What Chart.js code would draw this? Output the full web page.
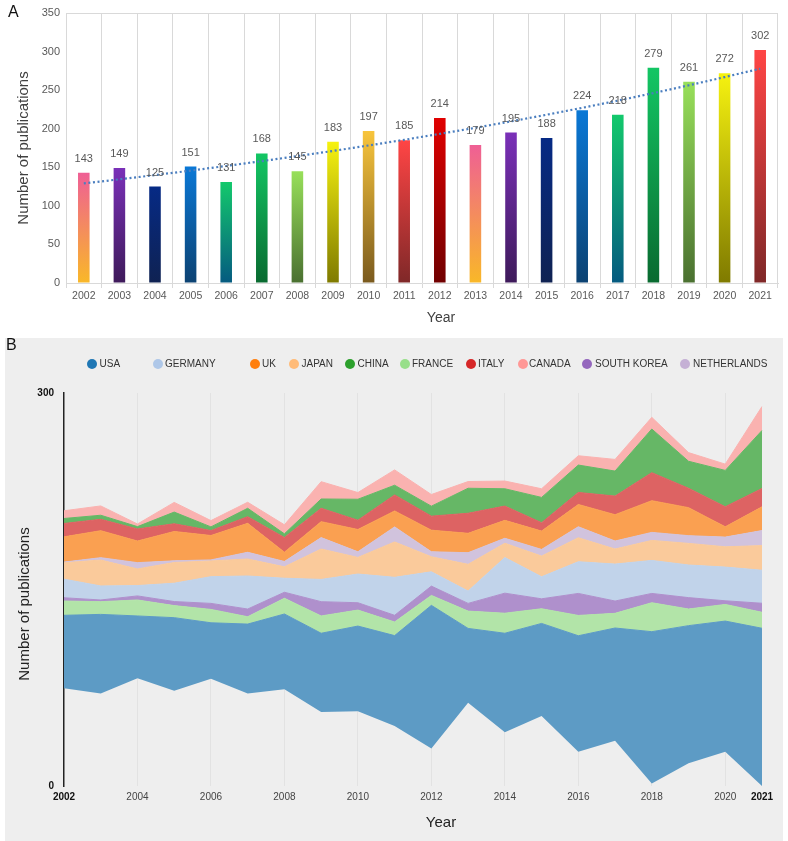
<!DOCTYPE html>
<html><head><meta charset="utf-8">
<script src="https://cdn.jsdelivr.net/npm/chart.js@4.4.1/dist/chart.umd.min.js"></script>
<style>
html,body{margin:0;padding:0;background:#fff;}
#wrap{position:relative;width:788px;height:841px;overflow:hidden;font-family:"Liberation Sans",Arial,sans-serif;}
#cA{position:absolute;left:0;top:0;}
#bgB{position:absolute;left:5px;top:338px;width:778px;height:503px;background:#eeeeee;}
#cB{position:absolute;left:0;top:338px;}
.panel{position:absolute;font-size:16px;color:#111;line-height:16px;}
.li{position:absolute;top:356px;font-size:10px;color:#333;line-height:16px;white-space:nowrap;}
.dot{position:absolute;top:359px;width:10px;height:10px;border-radius:50%;}
.ttl{position:absolute;width:200px;text-align:center;white-space:nowrap;}
</style></head>
<body>
<div id="wrap">
  <canvas id="cA" width="788" height="335"></canvas>
  <div id="bgB"></div>
  <canvas id="cB" width="788" height="503"></canvas>
  <div class="panel" style="left:8px;top:4px;">A</div>
  <div class="panel" style="left:6px;top:337px;">B</div>
  <div class="ttl" style="left:341px;top:308px;font-size:14px;line-height:18px;color:#404040;">Year</div>
  <div class="ttl" style="left:341px;top:812px;font-size:15px;line-height:20px;color:#222;">Year</div>
  <div class="ttl" style="left:-76px;top:594px;font-size:15px;line-height:20px;color:#222;transform:rotate(-90deg);transform-origin:100px 10px;">Number of publications</div>
</div>
<script>
// ---------- data ----------
const years = ['2002','2003','2004','2005','2006','2007','2008','2009','2010','2011','2012','2013','2014','2015','2016','2017','2018','2019','2020','2021'];
const publications = [143,149,125,151,131,168,145,183,197,185,214,179,195,188,224,218,279,261,272,302];
const trendValues = [129.1,134.4,139.9,145.7,151.7,158.0,164.5,171.2,178.3,185.6,193.3,201.2,209.5,218.1,227.1,236.4,246.2,256.3,266.9,277.8];

// stream graph (panel B), values in axis units, bottom-to-top order
const streamBaseline = [74.6,70.7,82.2,72.8,81.9,70.7,73.8,56.5,57.0,45.8,28.7,63.6,41.0,53.4,26.2,34.6,2.0,17.3,26.2,0];
const usa         = [55.7,60.3,47.6,55.7,42.7,52.9,57.5,60.1,65.1,69.0,109.2,56.7,75.6,70.7,88.5,86.0,115.8,105.1,99.7,120.4];
const france      = [10.9,9.7,12.2,9.2,10.2,5.6,12.0,13.2,12.2,10.4,7.6,13.2,15.3,11.2,15.5,11.2,22.1,12.7,12.7,12.2];
const southKorea  = [2.5,1.3,3.1,3.1,4.6,5.9,4.6,10.9,5.6,5.1,7.1,5.9,15.3,7.6,16.8,9.4,7.1,8.7,2.8,6.9];
const germany     = [14.2,10.7,7.9,14.0,20.4,25.2,10.7,17.0,21.9,29.0,10.9,9.4,27.2,16.8,24.2,28.2,25.2,24.9,25.7,25.2];
const japan       = [12.5,19.8,12.7,15.8,12.0,13.0,8.7,23.2,12.7,27.0,11.5,20.4,10.9,15.8,18.3,11.5,15.3,16.5,15.5,18.8];
const netherlands = [0.5,1.8,4.8,1.3,0.8,5.1,4.1,8.7,4.3,11.5,3.8,8.9,3.8,5.1,8.4,6.1,6.1,5.9,7.4,11.5];
const uk          = [19.3,20.6,16.5,22.4,18.6,22.1,7.1,12.2,17.0,12.2,16.5,14.8,13.7,14.0,17.0,20.1,24.2,21.4,7.9,18.1];
const italy       = [10.2,8.7,9.2,5.9,3.8,5.1,11.2,10.2,7.1,12.2,10.7,15.3,10.9,6.4,9.2,14.2,21.4,14.8,15.3,14.0];
const china       = [3.8,3.1,1.8,8.9,2.8,6.4,2.8,7.1,16.0,7.4,7.6,19.1,13.2,19.3,20.9,19.1,33.3,20.6,27.7,44.3];
const canada      = [5.9,7.1,2.0,7.4,4.8,4.6,6.9,13.2,5.1,11.7,8.9,5.1,5.9,6.6,7.1,8.9,8.9,6.6,4.8,18.3];

const stackNames = ['USA','FRANCE','SOUTH KOREA','GERMANY','JAPAN','NETHERLANDS','UK','ITALY','CHINA','CANADA'];
const stackSeries = [usa,france,southKorea,germany,japan,netherlands,uk,italy,china,canada];
const legendNames = ['USA','GERMANY','UK','JAPAN','CHINA','FRANCE','ITALY','CANADA','SOUTH KOREA','NETHERLANDS'];

// ---------- styles ----------
const barTop = ['#ef5f95','#7a30b8','#062a85','#0a78d6','#13c96c','#13c664','#98e05a','#f6f210','#f8c53c','#ff4545','#e00000',
                '#ef5f95','#7a30b8','#062a85','#0a78d6','#13c96c','#13c664','#98e05a','#f6f210','#ff4545'];
const barBottom = ['#f9b828','#3e1a5a','#0f2252','#0c4272','#055a80','#096a30','#4a7030','#7f7a00','#7a5a1e','#7f2828','#700000',
                   '#f9b828','#3e1a5a','#0f2252','#0c4272','#055a80','#096a30','#4a7030','#7f7a00','#7f2828'];
const baseColors = {'USA':'#1f77b4','GERMANY':'#aec7e8','UK':'#ff7f0e','JAPAN':'#ffbb78','CHINA':'#2ca02c','FRANCE':'#98df8a',
  'ITALY':'#d62728','CANADA':'#ff9896','SOUTH KOREA':'#9467bd','NETHERLANDS':'#c5b0d5'};
function blend(hex){ // 70% colour over #eeeeee
  const n=parseInt(hex.slice(1),16), r=n>>16, g=(n>>8)&255, b=n&255;
  const f=v=>Math.round(v*0.7+238*0.3);
  return 'rgb('+f(r)+','+f(g)+','+f(b)+')';
}
const legendDotX = [92,157.6,255,294.4,350,404.5,470.7,522.7,587.4,685.4];
const legendTextX = [99.5,165,262,301.5,357.6,412,478,529,595,693];

Chart.defaults.font.family = '"Liberation Sans", Arial, sans-serif';

// legend (HTML)
const wrap = document.getElementById('wrap');
legendNames.forEach((n,i)=>{
  const d=document.createElement('div'); d.className='dot';
  d.style.left=(legendDotX[i]-5)+'px'; d.style.background=baseColors[n]; wrap.appendChild(d);
  const t=document.createElement('div'); t.className='li'; t.textContent=n;
  t.style.left=legendTextX[i]+'px'; wrap.appendChild(t);
});

// ---------- panel A ----------
function barGrad(c){
  const i=c.dataIndex;
  if(i===undefined) return barTop[0];
  const chart=c.chart;
  if(!chart.chartArea) return barTop[i];
  const y=chart.scales.y;
  const top=y.getPixelForValue(publications[i]), bot=y.getPixelForValue(0);
  const g=chart.ctx.createLinearGradient(0,top,0,bot);
  g.addColorStop(0,barTop[i]); g.addColorStop(1,barBottom[i]);
  return g;
}
const valueLabels = {
  id:'valueLabels',
  afterDatasetsDraw(chart){
    const meta=chart.getDatasetMeta(1), ctx=chart.ctx;
    ctx.save();
    ctx.font='11px "Liberation Sans", Arial, sans-serif';
    ctx.fillStyle='#595959'; ctx.textAlign='center'; ctx.textBaseline='alphabetic';
    meta.data.forEach((bar,i)=>ctx.fillText(String(publications[i]), bar.x, bar.y-11));
    ctx.restore();
  }
};
new Chart(document.getElementById('cA'), {
  type:'bar',
  data:{ labels:years, datasets:[
    { type:'line', data:trendValues, borderColor:'#4a7ebf', borderWidth:2.2, borderDash:[2,2.6],
      pointRadius:0, fill:false, tension:0, order:0 },
    { type:'bar', data:publications, backgroundColor:barGrad, borderWidth:0, order:1,
      barPercentage:0.325, categoryPercentage:1 }
  ]},
  options:{
    responsive:false, animation:false, events:[],
    layout:{padding:{left:0,right:10,top:13,bottom:0}},
    plugins:{legend:{display:false}, tooltip:{enabled:false}},
    scales:{
      x:{ offset:true,
          grid:{offset:true, color:'#d9d9d9', tickLength:5},
          border:{display:true, color:'#d9d9d9'},
          ticks:{font:{size:10.5}, color:'#595959', padding:2, autoSkip:false, maxRotation:0},
          afterFit(s){ s.height=52; } },
      y:{ min:0, max:350,
          ticks:{stepSize:50, font:{size:11}, color:'#595959', padding:6},
          grid:{drawTicks:false, color:(c)=> (c.tick && c.tick.value===350) ? '#d9d9d9' : 'rgba(0,0,0,0)'},
          border:{display:false},
          title:{display:true, text:'Number of publications', font:{size:15}, color:'#404040', padding:{top:15,bottom:0}},
          afterFit(s){ s.width=66; } }
    }
  },
  plugins:[valueLabels]
});

// ---------- panel B ----------
const streamDatasets = [{ label:'baseline', data:streamBaseline, fill:false, borderWidth:0, pointRadius:0,
  borderColor:'rgba(0,0,0,0)', backgroundColor:'rgba(0,0,0,0)' }];
stackNames.forEach((n,i)=>{
  const col=blend(baseColors[n]);
  streamDatasets.push({ label:n, data:stackSeries[i], fill:'-1', backgroundColor:col, borderColor:col,
    borderWidth:1, pointRadius:0, tension:0 });
});
const isBoldYear = (i)=> i===0 || i===years.length-1;
new Chart(document.getElementById('cB'), {
  type:'line',
  data:{ labels:years, datasets:streamDatasets },
  options:{
    responsive:false, animation:false, events:[],
    layout:{padding:{left:0,right:26,top:55,bottom:0}},
    plugins:{legend:{display:false}, tooltip:{enabled:false}},
    scales:{
      x:{ offset:false,
          grid:{drawTicks:false, color:(c)=>{ const i=c.index; const yr=+years[i];
                 return (i>0 && i<years.length-1 && yr%2===0) ? '#e2e2e2' : 'rgba(0,0,0,0)'; }},
          border:{display:false},
          ticks:{autoSkip:false, maxRotation:0, padding:5,
                 callback:function(v,i){ const yr=+years[i]; return (yr%2===0 || i===years.length-1) ? years[i] : ''; },
                 font:(c)=>({size:10, weight: isBoldYear(c.index)?'bold':'normal'}),
                 color:(c)=> isBoldYear(c.index) ? '#111' : '#444'},
          afterFit(s){ s.height=55; } },
      y:{ stacked:true, min:0, max:300,
          ticks:{stepSize:300, font:{size:10, weight:'bold'}, color:'#111', padding:2},
          grid:{display:false},
          border:{display:true, color:'#222', width:1.5},
          afterFit(s){ s.width=64; } }
    }
  }
});
</script>
</body></html>
